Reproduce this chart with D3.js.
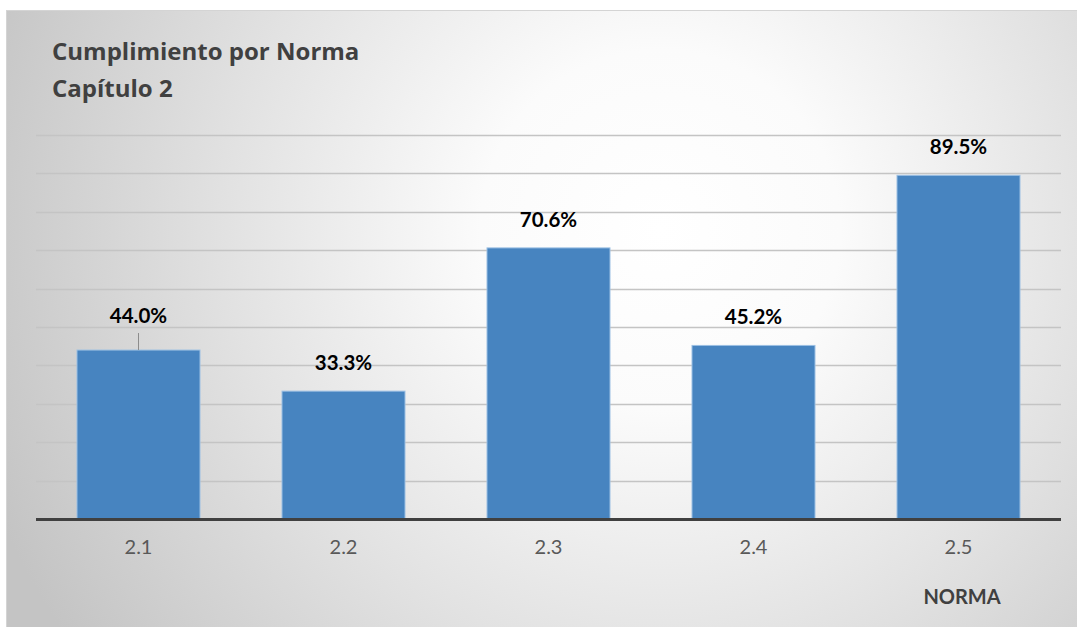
<!DOCTYPE html>
<html>
<head>
<meta charset="utf-8">
<script src="https://cdn.jsdelivr.net/npm/d3@7"></script>
<style>
  html, body { margin: 0; padding: 0; background: #ffffff; }
  svg { display: block; }
</style>
</head>
<body>
<svg id="chart" width="1077" height="627"></svg>
<script>
// Chart data
const categories = ["2.1", "2.2", "2.3", "2.4", "2.5"];
const values = [44.0, 33.3, 70.6, 45.2, 89.5];
const yTicks = [10, 20, 30, 40, 50, 60, 70, 80, 90, 100];
const titleLines = ["Cumplimiento por Norma", "Capítulo 2"];
const axisTitle = "NORMA";

const W = 1077, H = 627;
const svg = d3.select("#chart");
const defs = svg.append("defs");

// Soft radial background of the chart area
const grad = defs.append("radialGradient")
  .attr("id", "bg")
  .attr("gradientUnits", "userSpaceOnUse")
  .attr("cx", 660).attr("cy", 230).attr("r", 720);
grad.append("stop").attr("offset", "0%").attr("stop-color", "#ffffff");
grad.append("stop").attr("offset", "25%").attr("stop-color", "#fbfbfb");
grad.append("stop").attr("offset", "60%").attr("stop-color", "#e2e2e2");
grad.append("stop").attr("offset", "100%").attr("stop-color", "#c4c4c4");

svg.append("rect")
  .attr("x", 6).attr("y", 10)
  .attr("width", W - 6).attr("height", H - 10)
  .attr("fill", "url(#bg)");
svg.append("line")
  .attr("x1", 6).attr("x2", W).attr("y1", 10.5).attr("y2", 10.5)
  .attr("stroke", "#d4d4d4").attr("stroke-width", 1);
svg.append("line")
  .attr("x1", 6.5).attr("x2", 6.5).attr("y1", 10).attr("y2", H)
  .attr("stroke", "#d4d4d4").attr("stroke-width", 1);

// Scales
const x = d3.scaleBand()
  .domain(categories)
  .range([36, 1061])
  .paddingInner(0.4)
  .paddingOuter(0.2);
const y = d3.scaleLinear().domain([0, 100]).range([519, 135]);

// Horizontal gridlines
svg.append("g")
  .selectAll("line")
  .data(yTicks)
  .join("line")
  .attr("x1", 36).attr("x2", 1061)
  .attr("y1", d => Math.round(y(d)) + 0.5)
  .attr("y2", d => Math.round(y(d)) + 0.5)
  .attr("stroke", "#c4c4c4")
  .attr("stroke-width", 1.3);

// Bars
svg.append("g")
  .selectAll("rect")
  .data(values)
  .join("rect")
  .attr("x", (d, i) => x(categories[i]))
  .attr("y", d => y(d))
  .attr("width", x.bandwidth())
  .attr("height", d => y(0) - y(d))
  .attr("fill", "#4784c0")
  .attr("stroke", "#9cc0e4")
  .attr("stroke-width", 1);

// Category axis
const xAxis = svg.append("g")
  .attr("transform", `translate(0,${y(0)})`)
  .call(d3.axisBottom(x).tickSize(0).tickPadding(21));
xAxis.select(".domain").remove();
svg.append("line")
  .attr("x1", 36).attr("x2", 1061)
  .attr("y1", y(0) + 0.5).attr("y2", y(0) + 0.5)
  .attr("stroke", "#404040").attr("stroke-width", 3);
xAxis.selectAll("text")
  .attr("font-family", "Lato, 'Open Sans', sans-serif")
  .attr("font-size", 20)
  .attr("fill", "#595959");

// Axis title
svg.append("text")
  .attr("x", 962).attr("y", 604)
  .attr("text-anchor", "middle")
  .attr("font-family", "Lato, 'Open Sans', sans-serif")
  .attr("font-weight", "bold")
  .attr("font-size", 20)
  .attr("fill", "#404040")
  .text(axisTitle);

// Chart title
svg.append("g")
  .selectAll("text")
  .data(titleLines)
  .join("text")
  .attr("x", 52)
  .attr("y", (d, i) => 60 + i * 37)
  .attr("font-family", "'Open Sans', Lato, sans-serif")
  .attr("font-weight", "bold")
  .attr("font-size", 24)
  .attr("fill", "#404040")
  .text(d => d);

// Value labels; the first one sits a little higher with a leader line
const lift = (i) => (i === 0 ? 27 : 21);
svg.append("g")
  .selectAll("text")
  .data(values)
  .join("text")
  .attr("x", (d, i) => x(categories[i]) + x.bandwidth() / 2)
  .attr("y", (d, i) => y(d) - lift(i))
  .attr("text-anchor", "middle")
  .attr("font-family", "Lato, 'Open Sans', sans-serif")
  .attr("font-weight", "bold")
  .attr("font-size", 20.5)
  .attr("fill", "#000000")
  .text(d => d.toFixed(1) + "%");

svg.append("line")
  .attr("x1", x(categories[0]) + x.bandwidth() / 2)
  .attr("x2", x(categories[0]) + x.bandwidth() / 2)
  .attr("y1", y(values[0]) - 17)
  .attr("y2", y(values[0]))
  .attr("stroke", "#8c8c8c")
  .attr("stroke-width", 1);
</script>
</body>
</html>
